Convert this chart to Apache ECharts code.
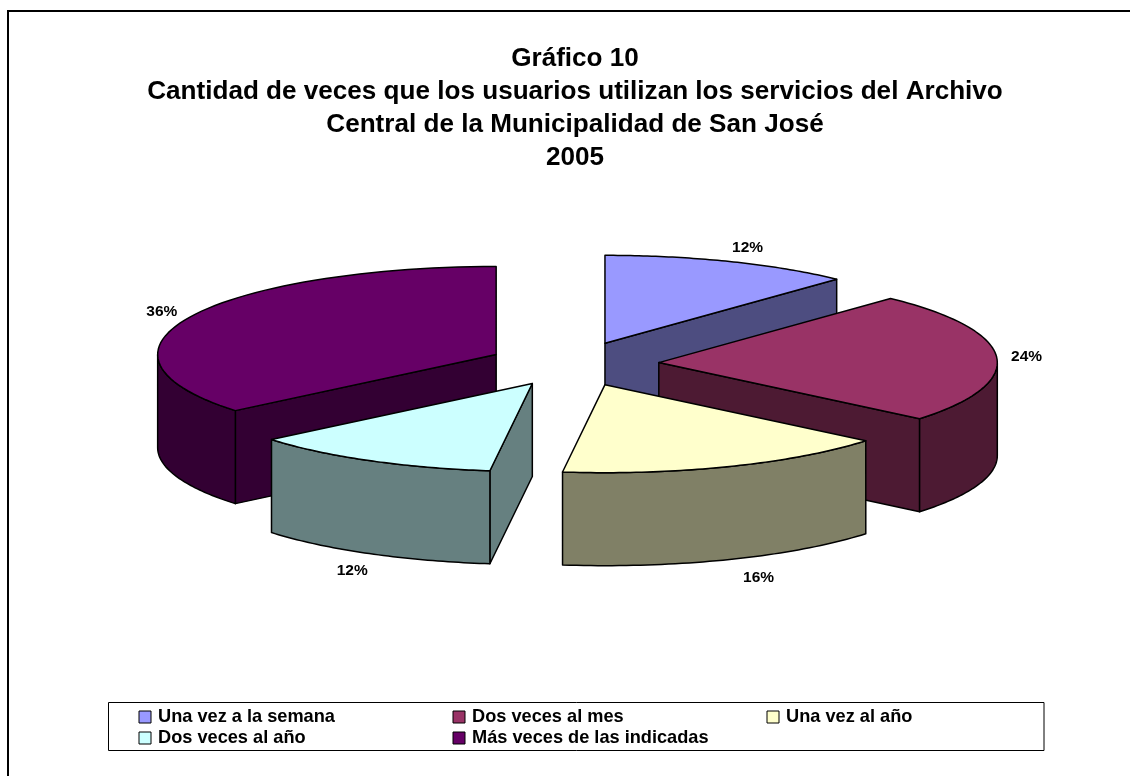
<!DOCTYPE html>
<html>
<head>
<meta charset="utf-8">
<style>
  html, body { margin: 0; padding: 0; background: #fff; }
  #chart { width: 1130px; height: 776px; }
</style>
<script src="https://cdn.jsdelivr.net/npm/echarts@6/dist/echarts.min.js"></script>
</head>
<body>
<div id="chart"></div>
<script>
const categories = ['Una vez a la semana', 'Dos veces al mes', 'Una vez al año', 'Dos veces al año', 'Más veces de las indicadas'];
const shares = [12, 24, 16, 12, 36];
const topColors = ['#9999FF', '#993366', '#FFFFCC', '#CCFFFF', '#660066'];
const sideColors = ['#4D4D80', '#4D1A33', '#808066', '#668080', '#330033'];
const titleLines = ['Gráfico 10', 'Cantidad de veces que los usuarios utilizan los servicios del Archivo', 'Central de la Municipalidad de San José', '2005'];

// pie geometry, the picture is an Excel style exploded 3D pie
const cx = 573.5, cy = 364, rx = 338.5, ry = 88, depth = 93, explode = 0.2525;
// label shift away from the rim of each slice
const labelShift = [[18, -14], [30, 0], [29, 18], [-17, 17], [-28, -5]];
const FONT = '"Liberation Sans", Arial, sans-serif';

const total = shares.reduce((a, b) => a + b, 0);

function rim(a) {
  return [rx * Math.sin(a), -ry * Math.cos(a)];
}

function renderSlice(params, api) {
  const i = params.seriesIndex;
  const before = shares.slice(0, i).reduce((a, b) => a + b, 0);
  const a0 = before / total * Math.PI * 2;
  const a1 = (before + api.value(0)) / total * Math.PI * 2;
  const mid = (a0 + a1) / 2;
  const ox = cx + explode * rx * Math.sin(mid);
  const oy = cy - explode * ry * Math.cos(mid);
  const pt = (a, drop) => [ox + rim(a)[0], oy + rim(a)[1] + (drop || 0)];

  const base = Math.round(oy) * 10;
  const stroke = { stroke: '#000', lineWidth: 1.5, lineJoin: 'round' };
  const children = [];
  const face = (points, fill, k) => children.push({
    type: 'polygon',
    z2: base + k,
    shape: { points: points },
    style: Object.assign({ fill: fill }, stroke)
  });
  const cutFace = (a) => {
    const e = pt(a);
    face([[ox, oy], e, [e[0], e[1] + depth], [ox, oy + depth]], sideColors[i], 0);
  };

  // cut faces, only the ones turned to the viewer are seen
  if (Math.sin(a0) < -1e-6) cutFace(a0);
  if (Math.sin(a1) > 1e-6) cutFace(a1);

  // outer wall, front half of the rim only
  const from = Math.max(a0, Math.PI / 2);
  const to = Math.min(a1, Math.PI * 1.5);
  if (to > from) {
    const upper = [], lower = [];
    for (let s = 0; s <= 48; s++) {
      const a = from + (to - from) * s / 48;
      upper.push(pt(a));
      lower.unshift(pt(a, depth));
    }
    face(upper.concat(lower), sideColors[i], 1);
  }

  // top surface
  const top = [[ox, oy]];
  for (let s = 0; s <= 60; s++) {
    top.push(pt(a0 + (a1 - a0) * s / 60));
  }
  face(top, topColors[i], 2);

  // percent label, lower slices hang under the wall
  const p = pt(mid, Math.cos(mid) < 0 ? depth : 0);
  children.push({
    type: 'text',
    z2: 100000,
    style: {
      x: p[0] + labelShift[i][0],
      y: p[1] + labelShift[i][1],
      text: Math.round(api.value(0) / total * 100) + '%',
      align: 'center',
      verticalAlign: 'middle',
      font: 'bold 15.5px ' + FONT,
      fill: '#000'
    }
  });
  return { type: 'group', children: children };
}

const chart = echarts.init(document.getElementById('chart'));
chart.setOption({
  animation: false,
  backgroundColor: '#fff',
  title: {
    text: titleLines.join('\n'),
    left: 570,
    top: 37.5,
    textAlign: 'center',
    textStyle: { fontFamily: FONT, fontWeight: 'bold', fontSize: 26.1, lineHeight: 33, color: '#000' }
  },
  legend: {
    left: 138.5,
    top: 706.5,
    width: 950,
    orient: 'horizontal',
    padding: 0,
    itemGap: 0,
    itemWidth: 12,
    itemHeight: 12,
    icon: 'rect',
    itemStyle: { borderColor: '#000', borderWidth: 1 },
    textStyle: { fontFamily: FONT, fontWeight: 'bold', fontSize: 18.2, color: '#000', width: 294.5, height: 21, lineHeight: 21, padding: [0, 0, 0, 2] },
    data: categories
  },
  graphic: [
    { type: 'polyline', shape: { points: [[8, 776], [8, 11], [1130, 11]] }, style: { stroke: '#000', lineWidth: 2, fill: null } },
    { type: 'rect', shape: { x: 108.5, y: 702.5, width: 935.5, height: 48 }, style: { stroke: '#000', lineWidth: 1, fill: null } }
  ],
  series: categories.map(function (name, i) {
    return {
      type: 'custom',
      name: name,
      coordinateSystem: 'none',
      renderItem: renderSlice,
      itemStyle: { color: topColors[i] },
      data: [[shares[i]]]
    };
  })
});
</script>
</body>
</html>
